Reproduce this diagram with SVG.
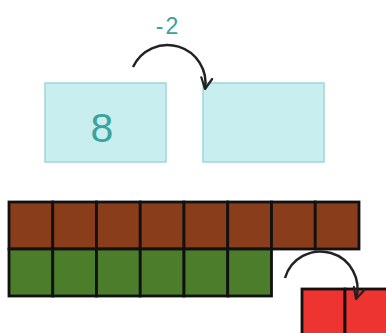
<svg xmlns="http://www.w3.org/2000/svg" width="386" height="333" viewBox="0 0 386 333">
<style>
.box{fill:#c8eef0;stroke:#9fd6da;stroke-width:1.5}
.num{font-family:"Liberation Sans",Arial,sans-serif;fill:#3aa39c;text-anchor:middle}
.br{fill:#8a3d1a;stroke:#111;stroke-width:2.8}
.gr{fill:#4b7d2b;stroke:#111;stroke-width:2.8}
.rd{fill:#ee3430;stroke:#111;stroke-width:2.8}
.arc{fill:none;stroke:#222;stroke-width:2.5;marker-end:url(#ah)}
</style>
<defs>
<marker id="ah" viewBox="0 0 10 10" refX="9" refY="5" markerWidth="5.5" markerHeight="5.5" orient="auto" markerUnits="strokeWidth">
<path d="M1,1 L9,5 L1,9" fill="none" stroke="#222" stroke-width="1.6" stroke-linecap="round" stroke-linejoin="round"/>
</marker>
</defs>
<rect width="386" height="333" fill="#fff"/>
<g id="box1"><rect class="box" x="45" y="83" width="121" height="79"/><text class="num" x="102" y="142" font-size="41">8</text></g>
<g id="box2"><rect class="box" x="203" y="83" width="121" height="79"/></g>
<g id="label"><text class="num" x="168" y="34" font-size="23" letter-spacing="2">-2</text></g>
<g id="brown">
<rect class="br" x="9" y="202" width="43.75" height="47"/>
<rect class="br" x="52.75" y="202" width="43.75" height="47"/>
<rect class="br" x="96.5" y="202" width="43.75" height="47"/>
<rect class="br" x="140.25" y="202" width="43.75" height="47"/>
<rect class="br" x="184" y="202" width="43.75" height="47"/>
<rect class="br" x="227.75" y="202" width="43.75" height="47"/>
<rect class="br" x="271.5" y="202" width="43.75" height="47"/>
<rect class="br" x="315.25" y="202" width="43.75" height="47"/>
</g>
<g id="green">
<rect class="gr" x="9" y="249" width="43.75" height="47"/>
<rect class="gr" x="52.75" y="249" width="43.75" height="47"/>
<rect class="gr" x="96.5" y="249" width="43.75" height="47"/>
<rect class="gr" x="140.25" y="249" width="43.75" height="47"/>
<rect class="gr" x="184" y="249" width="43.75" height="47"/>
<rect class="gr" x="227.75" y="249" width="43.75" height="47"/>
</g>
<g id="red">
<rect class="rd" x="302" y="289" width="43" height="50"/>
<rect class="rd" x="345" y="289" width="43" height="50"/>
</g>
<g id="connectors">
<path class="arc" d="M133,67 A38,38 0 0 1 205,89"/>
<path class="arc" d="M285,278 A36,36 0 0 1 356,299"/>
</g>
</svg>
